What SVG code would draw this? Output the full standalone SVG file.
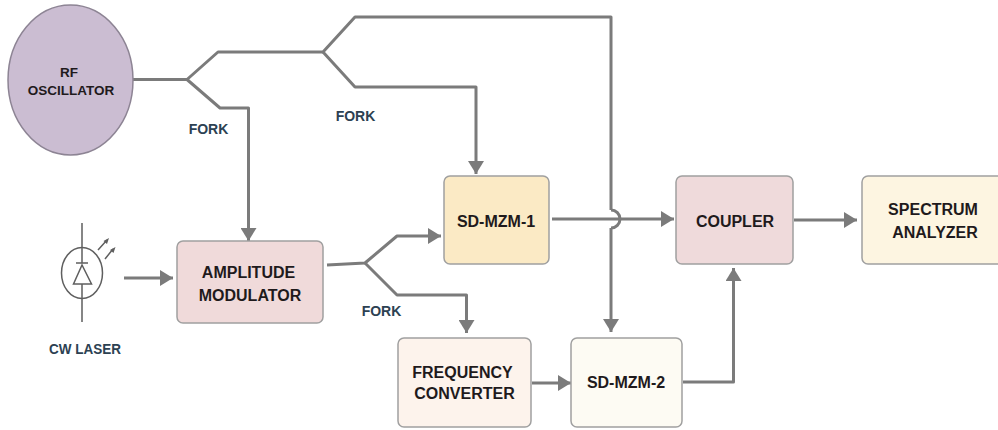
<svg xmlns="http://www.w3.org/2000/svg" width="998" height="430" viewBox="0 0 998 430">
<style>
.box{stroke:#a0a0a0;stroke-width:1.5}
.t{font-family:"Liberation Sans",Arial,sans-serif;font-weight:700;text-anchor:middle;fill:#1f1a1c;font-size:16px}
.l{font-family:"Liberation Sans",Arial,sans-serif;font-weight:700;text-anchor:middle;fill:#2c4152;font-size:14px}
.c{fill:none;stroke:#7b7b7b;stroke-width:3;stroke-linejoin:round}
.s{fill:none;stroke:#5f5f5f;stroke-width:1.5}
.h{fill:#5f5f5f}
</style>
<defs>
<marker id="a" markerUnits="userSpaceOnUse" markerWidth="14" markerHeight="16" refX="13" refY="8" orient="auto"><path d="M0 0L13 8L0 16Z" fill="#7b7b7b"/></marker>
</defs>
<rect width="998" height="430" fill="#fff"/>
<g id="connectors">
<path class="c" d="M133 79.500H187L218 52H323L355 17H611V210"/>
<path class="c" d="M611 228V332" marker-end="url(#a)"/>
<path class="c" d="M187 79.500L220 108H248.500V241" marker-end="url(#a)"/>
<path class="c" d="M323 52L355 87H476V174" marker-end="url(#a)"/>
<path class="c" d="M124 278H173" marker-end="url(#a)"/>
<path class="c" d="M327 265L365 263L397 236H441" marker-end="url(#a)"/>
<path class="c" d="M365 263L397 295H466.500V333" marker-end="url(#a)"/>
<path class="c" d="M552 219H674" marker-end="url(#a)"/>
<path class="c" d="M611 210A9 9 0 0 1 611 228"/>
<path class="c" d="M532 383H571" marker-end="url(#a)"/>
<path class="c" d="M683 382H733.500V268" marker-end="url(#a)"/>
<path class="c" d="M794 220H857" marker-end="url(#a)"/>
</g>
<g id="rf-oscillator"><ellipse cx="70.500" cy="80" rx="62.500" ry="75" fill="#cbbdd2" stroke="#8d8494" stroke-width="1.500"/><text class="t" x="69" y="77" style="font-size:13.500px">RF</text><text class="t" x="71" y="95" style="font-size:13.500px">OSCILLATOR</text></g>
<g id="fork-1"><text class="l" x="208.500" y="134">FORK</text></g>
<g id="fork-2"><text class="l" x="355.500" y="121">FORK</text></g>
<g id="fork-3"><text class="l" x="381.500" y="316">FORK</text></g>
<g id="cw-laser">
<ellipse cx="82" cy="273" rx="20.500" ry="25.500" class="s"/>
<path class="s" d="M82 223V263M82 284V322M76 263H88M82 265L73.500 284H91.500Z"/>
<path class="s" d="M98 250L107 240M105 259L113 249"/>
<path class="h" d="M109 238L103.500 241L107 244ZM115.500 247L110 250L113.500 253Z"/>
<text class="l" x="85" y="354" style="font-size:14px" textLength="72" lengthAdjust="spacingAndGlyphs">CW LASER</text>
</g>
<g id="amplitude-modulator"><rect class="box" x="177" y="241" width="146" height="82" rx="6" fill="#f0dada"/><text class="t" x="248.500" y="278">AMPLITUDE</text><text class="t" x="250" y="301">MODULATOR</text></g>
<g id="sd-mzm-1"><rect class="box" x="444" y="176" width="105" height="88" rx="6" fill="#fbeac5"/><text class="t" x="496" y="227">SD-MZM-1</text></g>
<g id="frequency-converter"><rect class="box" x="398" y="338" width="133" height="89" rx="6" fill="#fdf3ec"/><text class="t" x="462.500" y="378">FREQUENCY</text><text class="t" x="464.500" y="399">CONVERTER</text></g>
<g id="sd-mzm-2"><rect class="box" x="571" y="338" width="111" height="89" rx="6" fill="#fdfbf3"/><text class="t" x="626" y="388">SD-MZM-2</text></g>
<g id="coupler"><rect class="box" x="676" y="176" width="117" height="88" rx="6" fill="#efdadb"/><text class="t" x="735" y="227">COUPLER</text></g>
<g id="spectrum-analyzer"><rect class="box" x="862" y="176" width="145" height="88" rx="6" fill="#fdf5e1"/><text class="t" x="933" y="215">SPECTRUM</text><text class="t" x="935" y="238">ANALYZER</text></g>
</svg>
